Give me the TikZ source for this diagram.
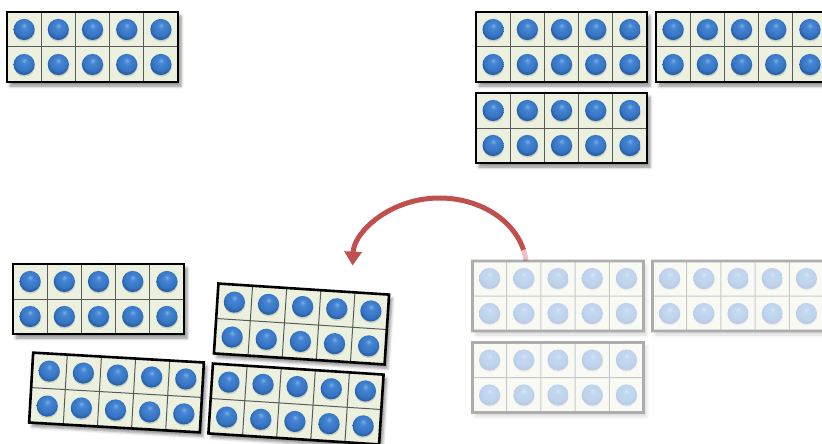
\documentclass[tikz,border=0pt]{standalone}
\usetikzlibrary{arrows.meta,shadows.blur}
\definecolor{cellfill}{HTML}{EBF1DE}
\definecolor{gridgray}{HTML}{5A5A5A}
\definecolor{dotlight}{HTML}{7AAEE6}
\definecolor{dotmid}{HTML}{4485D2}
\definecolor{dotblue}{HTML}{3674C4}
\definecolor{dotdark}{HTML}{2A62AA}
\definecolor{arrowred}{HTML}{C0504D}
\pgfdeclareradialshading{bluedot}{\pgfqpoint{0bp}{10bp}}{color(0bp)=(dotlight); color(7bp)=(dotmid); color(21bp)=(dotblue); color(25bp)=(dotdark); color(50bp)=(dotdark)}
\tikzset{
  framefill/.style={fill=cellfill, blur shadow={shadow xshift=3pt, shadow yshift=-4pt, shadow blur radius=3pt, shadow opacity=45}},
  gridline/.style={draw=gridgray, line width=1pt},
  frameborder/.style={draw=black, line width=2.6pt},
  dotshadow/.style={fill=black, opacity=0.13},
  dotball/.style={shading=bluedot},
  redarrow/.style={draw=arrowred, line width=5pt, -{Triangle[length=14pt,width=17pt]}},
  fadearrow/.style={draw=arrowred!35, line width=5pt},
  pics/tenframe/.style={code={
    \fill[framefill] (-85.5,-35) rectangle (85.5,35);
    \foreach \i in {1,2,3,4} \draw[gridline] (-85.5+\i*34.2,-35) -- ++(0,70);
    \draw[gridline] (-85.5,0) -- (85.5,0);
    \foreach \i in {0,...,4} \foreach \j in {-17.5,17.5} {
      \fill[dotshadow] (-68.4+\i*34.2+0.4,\j+1.4) circle[radius=10.7];
      \shade[dotball] (-68.4+\i*34.2,\j) circle[radius=10.6];
    }
    \draw[frameborder] (-85.5,-35) rectangle (85.5,35);
  }}
}
\begin{document}
\begin{tikzpicture}[x=1pt,y=-1pt]
\useasboundingbox (0,0) rectangle (822,444);
\clip (0,0) rectangle (822,444);
% top left
\pic (f1) at (92.5,47) {tenframe};
% top right group
\pic (f2) at (561.5,47) {tenframe};
\pic (f3) at (741.5,47) {tenframe};
\pic (f4) at (561.5,128) {tenframe};
% curved arrow
\coordinate (arcstart) at (526,260.7);
\draw[fadearrow] (arcstart) arc[start angle=-6, end angle=-15, x radius=87, y radius=70] coordinate (arcmid);
\draw[redarrow] (arcmid) arc[start angle=-15, end angle=-178, x radius=87, y radius=70];
% faded group
\begin{scope}[transparency group, opacity=0.32]
\pic (g1) at (558,296) {tenframe};
\pic (g2) at (738,296) {tenframe};
\pic (g3) at (558,377.5) {tenframe};
\end{scope}
% bottom left group
\pic (h1) at (98.5,299) {tenframe};
\pic[rotate=-3.7] (r1) at (301.5,324) {tenframe};
\pic[rotate=-3.3] (r2) at (116.5,392.5) {tenframe};
\pic[rotate=-3.7] (r3) at (296,404) {tenframe};
\end{tikzpicture}
\end{document}
